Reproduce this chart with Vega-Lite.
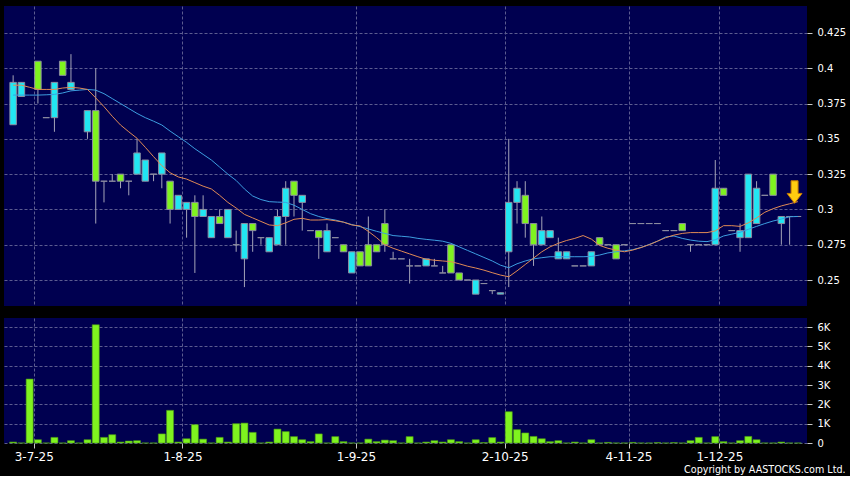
{
  "$schema": "https://vega.github.io/schema/vega-lite/v6.json",
  "background": "#000000",
  "padding": {"left": 4, "top": 6, "right": 4, "bottom": 1},
  "spacing": 12,
  "title": {"text": "Copyright by AASTOCKS.com Ltd.", "orient": "bottom", "anchor": "end", "frame": "bounds", "color": "#ffffff", "font": "DejaVu Sans", "fontSize": 9.6, "fontWeight": "normal", "offset": 3},
  "datasets": {
    "k": [
      {"i":0,"o":0.36,"h":0.395,"l":0.36,"c":0.39,"v":50,"m1":0.388,"m2":0.381},
      {"i":1,"o":0.38,"h":0.39,"l":0.38,"c":0.39,"v":0,"m1":0.388,"m2":0.381},
      {"i":2,"o":null,"h":null,"l":null,"c":null,"v":3310,"m1":0.3865,"m2":0.381},
      {"i":3,"o":0.405,"h":0.405,"l":0.375,"c":0.385,"v":170,"m1":0.385,"m2":0.381},
      {"i":4,"o":0.365,"h":0.365,"l":0.365,"c":0.365,"v":0,"m1":0.385,"m2":0.3812},
      {"i":5,"o":0.365,"h":0.39,"l":0.355,"c":0.39,"v":290,"m1":0.385,"m2":0.3815},
      {"i":6,"o":0.405,"h":0.405,"l":0.395,"c":0.395,"v":0,"m1":0.386,"m2":0.3825},
      {"i":7,"o":0.385,"h":0.41,"l":0.385,"c":0.39,"v":120,"m1":0.3865,"m2":0.384},
      {"i":8,"o":null,"h":null,"l":null,"c":null,"v":0,"m1":0.386,"m2":0.3845},
      {"i":9,"o":0.355,"h":0.37,"l":0.35,"c":0.37,"v":170,"m1":0.385,"m2":0.385},
      {"i":10,"o":0.37,"h":0.4,"l":0.29,"c":0.32,"v":6120,"m1":0.379,"m2":0.3845},
      {"i":11,"o":0.32,"h":0.32,"l":0.305,"c":0.32,"v":290,"m1":0.3728,"m2":0.382},
      {"i":12,"o":0.32,"h":0.325,"l":0.32,"c":0.32,"v":430,"m1":0.366,"m2":0.3785},
      {"i":13,"o":0.325,"h":0.325,"l":0.315,"c":0.32,"v":50,"m1":0.3598,"m2":0.375},
      {"i":14,"o":0.32,"h":0.32,"l":0.31,"c":0.32,"v":100,"m1":0.355,"m2":0.3715},
      {"i":15,"o":0.325,"h":0.35,"l":0.325,"c":0.34,"v":120,"m1":0.3504,"m2":0.368},
      {"i":16,"o":0.32,"h":0.335,"l":0.32,"c":0.335,"v":0,"m1":0.344,"m2":0.365},
      {"i":17,"o":0.325,"h":0.325,"l":0.32,"c":0.325,"v":0,"m1":0.3374,"m2":0.3625},
      {"i":18,"o":0.325,"h":0.34,"l":0.315,"c":0.34,"v":470,"m1":0.331,"m2":0.3598},
      {"i":19,"o":0.32,"h":0.32,"l":0.29,"c":0.3,"v":1690,"m1":0.326,"m2":0.3555},
      {"i":20,"o":0.3,"h":0.31,"l":0.3,"c":0.31,"v":50,"m1":0.323,"m2":0.3515},
      {"i":21,"o":0.3,"h":0.305,"l":0.28,"c":0.305,"v":220,"m1":0.3215,"m2":0.3475},
      {"i":22,"o":0.305,"h":0.31,"l":0.255,"c":0.295,"v":950,"m1":0.319,"m2":0.343},
      {"i":23,"o":0.295,"h":0.31,"l":0.295,"c":0.3,"v":200,"m1":0.3165,"m2":0.339},
      {"i":24,"o":0.28,"h":0.295,"l":0.28,"c":0.295,"v":0,"m1":0.3145,"m2":0.335},
      {"i":25,"o":0.295,"h":0.3,"l":0.29,"c":0.29,"v":290,"m1":0.31,"m2":0.33},
      {"i":26,"o":0.28,"h":0.3,"l":0.28,"c":0.3,"v":50,"m1":0.305,"m2":0.325},
      {"i":27,"o":0.275,"h":0.285,"l":0.27,"c":0.275,"v":1000,"m1":0.301,"m2":0.3205},
      {"i":28,"o":0.265,"h":0.29,"l":0.245,"c":0.29,"v":1030,"m1":0.2965,"m2":0.3145},
      {"i":29,"o":0.29,"h":0.29,"l":0.27,"c":0.285,"v":550,"m1":0.294,"m2":0.3095},
      {"i":30,"o":0.28,"h":0.28,"l":0.275,"c":0.28,"v":0,"m1":0.2915,"m2":0.307},
      {"i":31,"o":0.27,"h":0.28,"l":0.27,"c":0.28,"v":50,"m1":0.289,"m2":0.3055},
      {"i":32,"o":0.275,"h":0.3,"l":0.275,"c":0.295,"v":720,"m1":0.2885,"m2":0.3052},
      {"i":33,"o":0.295,"h":0.32,"l":0.275,"c":0.315,"v":590,"m1":0.2905,"m2":0.305},
      {"i":34,"o":0.32,"h":0.32,"l":0.295,"c":0.31,"v":330,"m1":0.293,"m2":0.303},
      {"i":35,"o":0.305,"h":0.31,"l":0.285,"c":0.31,"v":170,"m1":0.2937,"m2":0.3},
      {"i":36,"o":0.285,"h":0.285,"l":0.285,"c":0.285,"v":70,"m1":0.2925,"m2":0.297},
      {"i":37,"o":0.285,"h":0.285,"l":0.265,"c":0.28,"v":470,"m1":0.2925,"m2":0.295},
      {"i":38,"o":0.27,"h":0.29,"l":0.27,"c":0.285,"v":0,"m1":0.2928,"m2":0.2935},
      {"i":39,"o":0.28,"h":0.28,"l":0.28,"c":0.28,"v":330,"m1":0.292,"m2":0.2925},
      {"i":40,"o":0.275,"h":0.275,"l":0.27,"c":0.27,"v":70,"m1":0.291,"m2":0.291},
      {"i":41,"o":0.255,"h":0.27,"l":0.255,"c":0.27,"v":0,"m1":0.289,"m2":0.2893},
      {"i":42,"o":0.27,"h":0.27,"l":0.26,"c":0.26,"v":0,"m1":0.2883,"m2":0.2878},
      {"i":43,"o":0.275,"h":0.295,"l":0.26,"c":0.26,"v":200,"m1":0.2845,"m2":0.2862},
      {"i":44,"o":0.275,"h":0.275,"l":0.27,"c":0.27,"v":70,"m1":0.28,"m2":0.2845},
      {"i":45,"o":0.29,"h":0.3,"l":0.27,"c":0.275,"v":150,"m1":0.275,"m2":0.283},
      {"i":46,"o":0.265,"h":0.27,"l":0.265,"c":0.265,"v":120,"m1":0.2725,"m2":0.2815},
      {"i":47,"o":0.265,"h":0.265,"l":0.265,"c":0.265,"v":0,"m1":0.2705,"m2":0.281},
      {"i":48,"o":0.26,"h":0.265,"l":0.2475,"c":0.26,"v":330,"m1":0.2685,"m2":0.2805},
      {"i":49,"o":0.26,"h":0.26,"l":0.26,"c":0.26,"v":0,"m1":0.2665,"m2":0.2795},
      {"i":50,"o":0.26,"h":0.265,"l":0.26,"c":0.265,"v":50,"m1":0.2647,"m2":0.2788},
      {"i":51,"o":0.26,"h":0.265,"l":0.26,"c":0.26,"v":120,"m1":0.264,"m2":0.2782},
      {"i":52,"o":0.255,"h":0.26,"l":0.255,"c":0.255,"v":50,"m1":0.2635,"m2":0.2775},
      {"i":53,"o":0.275,"h":0.275,"l":0.255,"c":0.255,"v":170,"m1":0.263,"m2":0.276},
      {"i":54,"o":0.255,"h":0.255,"l":0.25,"c":0.25,"v":70,"m1":0.2615,"m2":0.2735},
      {"i":55,"o":0.25,"h":0.25,"l":0.25,"c":0.25,"v":0,"m1":0.2598,"m2":0.271},
      {"i":56,"o":0.24,"h":0.25,"l":0.24,"c":0.25,"v":170,"m1":0.2585,"m2":0.2685},
      {"i":57,"o":0.2475,"h":0.2475,"l":0.2475,"c":0.2475,"v":20,"m1":0.257,"m2":0.266},
      {"i":58,"o":0.2425,"h":0.2425,"l":0.24,"c":0.2425,"v":280,"m1":0.2552,"m2":0.2635},
      {"i":59,"o":0.24,"h":0.241,"l":0.24,"c":0.241,"v":50,"m1":0.2535,"m2":0.2605},
      {"i":60,"o":0.27,"h":0.35,"l":0.245,"c":0.305,"v":1620,"m1":0.2523,"m2":0.2587},
      {"i":61,"o":0.305,"h":0.32,"l":0.29,"c":0.315,"v":690,"m1":0.2565,"m2":0.2615},
      {"i":62,"o":0.31,"h":0.32,"l":0.28,"c":0.29,"v":520,"m1":0.261,"m2":0.2635},
      {"i":63,"o":0.29,"h":0.29,"l":0.26,"c":0.275,"v":340,"m1":0.2655,"m2":0.265},
      {"i":64,"o":0.275,"h":0.295,"l":0.275,"c":0.285,"v":220,"m1":0.27,"m2":0.2658},
      {"i":65,"o":0.28,"h":0.285,"l":0.28,"c":0.285,"v":70,"m1":0.2735,"m2":0.2665},
      {"i":66,"o":0.265,"h":0.28,"l":0.265,"c":0.27,"v":120,"m1":0.276,"m2":0.2665},
      {"i":67,"o":0.265,"h":0.27,"l":0.265,"c":0.27,"v":0,"m1":0.278,"m2":0.2665},
      {"i":68,"o":0.26,"h":0.26,"l":0.26,"c":0.26,"v":50,"m1":0.2795,"m2":0.2665},
      {"i":69,"o":0.26,"h":0.26,"l":0.26,"c":0.26,"v":0,"m1":0.2815,"m2":0.2665},
      {"i":70,"o":0.26,"h":0.27,"l":0.26,"c":0.27,"v":170,"m1":0.279,"m2":0.2667},
      {"i":71,"o":0.28,"h":0.28,"l":0.275,"c":0.275,"v":0,"m1":0.2745,"m2":0.2677},
      {"i":72,"o":0.275,"h":0.275,"l":0.275,"c":0.275,"v":30,"m1":0.2725,"m2":0.2692},
      {"i":73,"o":0.275,"h":0.275,"l":0.265,"c":0.265,"v":0,"m1":0.2712,"m2":0.27},
      {"i":74,"o":0.275,"h":0.275,"l":0.275,"c":0.275,"v":0,"m1":0.27,"m2":0.2707},
      {"i":75,"o":0.29,"h":0.29,"l":0.29,"c":0.29,"v":30,"m1":0.2712,"m2":0.2715},
      {"i":76,"o":0.29,"h":0.29,"l":0.29,"c":0.29,"v":0,"m1":0.273,"m2":0.273},
      {"i":77,"o":0.29,"h":0.29,"l":0.29,"c":0.29,"v":0,"m1":0.275,"m2":0.2752},
      {"i":78,"o":0.29,"h":0.29,"l":0.29,"c":0.29,"v":20,"m1":0.2775,"m2":0.2775},
      {"i":79,"o":0.285,"h":0.285,"l":0.285,"c":0.285,"v":0,"m1":0.28,"m2":0.2805},
      {"i":80,"o":0.285,"h":0.285,"l":0.285,"c":0.285,"v":20,"m1":0.2818,"m2":0.2812},
      {"i":81,"o":0.29,"h":0.29,"l":0.285,"c":0.285,"v":0,"m1":0.283,"m2":0.2795},
      {"i":82,"o":0.275,"h":0.275,"l":0.27,"c":0.275,"v":120,"m1":0.2836,"m2":0.2783},
      {"i":83,"o":0.275,"h":0.275,"l":0.275,"c":0.275,"v":290,"m1":0.2836,"m2":0.2775},
      {"i":84,"o":0.275,"h":0.275,"l":0.275,"c":0.275,"v":0,"m1":0.2836,"m2":0.2772},
      {"i":85,"o":0.275,"h":0.335,"l":0.275,"c":0.315,"v":330,"m1":0.2848,"m2":0.2785},
      {"i":86,"o":0.315,"h":0.315,"l":0.31,"c":0.31,"v":70,"m1":0.2885,"m2":0.2812},
      {"i":87,"o":0.285,"h":0.285,"l":0.285,"c":0.285,"v":0,"m1":0.2885,"m2":0.2825},
      {"i":88,"o":0.28,"h":0.29,"l":0.27,"c":0.285,"v":120,"m1":0.288,"m2":0.2838},
      {"i":89,"o":0.28,"h":0.325,"l":0.28,"c":0.325,"v":340,"m1":0.2905,"m2":0.2859},
      {"i":90,"o":0.29,"h":0.32,"l":0.29,"c":0.315,"v":170,"m1":0.294,"m2":0.288},
      {"i":91,"o":0.31,"h":0.31,"l":0.31,"c":0.31,"v":0,"m1":0.298,"m2":0.29},
      {"i":92,"o":0.325,"h":0.325,"l":0.31,"c":0.31,"v":0,"m1":0.3005,"m2":0.2918},
      {"i":93,"o":0.29,"h":0.295,"l":0.275,"c":0.295,"v":50,"m1":0.3025,"m2":0.2932},
      {"i":94,"o":0.295,"h":0.295,"l":0.275,"c":0.295,"v":0,"m1":0.304,"m2":0.2948},
      {"i":95,"o":0.295,"h":0.295,"l":0.295,"c":0.295,"v":0,"m1":0.3055,"m2":0.295}
    ],
    "mk": [{"i": 94.6, "p": 0.3123}]
  },
  "vconcat": [
    {
      "width": 803,
      "height": 300,
      "data": {"name": "k"},
      "layer": [
        {
          "mark": {"type": "rule", "color": "#a4a4b8", "strokeWidth": 1},
          "encoding": {
            "x": {"field": "i", "type": "quantitative", "scale": {"domain": [-0.5, 95.5], "nice": false, "zero": false},
                  "axis": {"values": [2.5, 20.5, 41.5, 59.5, 74.5, 85.5], "labels": false, "ticks": false, "domain": false, "grid": true, "title": null}},
            "y": {"field": "l", "type": "quantitative", "scale": {"domain": [0.2316, 0.4441], "nice": false, "zero": false},
                  "axis": {"orient": "right", "values": [0.25, 0.275, 0.3, 0.325, 0.35, 0.375, 0.4, 0.425], "format": ".3~f", "title": null, "grid": true, "domain": false, "ticks": true, "tickSize": 5, "labelPadding": 5, "labelFontSize": 10}},
            "y2": {"field": "h"}
          }
        },
        {
          "mark": {"type": "bar", "size": 6.5, "stroke": "#8c8ca0", "strokeWidth": 1},
          "encoding": {
            "x": {"field": "i", "type": "quantitative"},
            "y": {"field": "o", "type": "quantitative"},
            "y2": {"field": "c"},
            "fill": {"condition": {"test": "datum.c < datum.o", "value": "#7ff31f"}, "value": "#22e6f2"}
          }
        },
        {
          "mark": {"type": "line", "color": "#3d9ee0", "strokeWidth": 1},
          "encoding": {
            "x": {"field": "i", "type": "quantitative"},
            "y": {"field": "m2", "type": "quantitative"}
          }
        },
        {
          "mark": {"type": "line", "color": "#e08a55", "strokeWidth": 1},
          "encoding": {
            "x": {"field": "i", "type": "quantitative"},
            "y": {"field": "m1", "type": "quantitative"}
          }
        },
        {
          "data": {"name": "mk"},
          "mark": {"type": "point", "filled": true, "shape": "M-0.31,-1L0.31,-1L0.31,0.12L0.66,0.12L0,1L-0.66,0.12L-0.31,0.12Z", "size": 510, "fill": "#ffcc10", "stroke": "#c87a00", "strokeWidth": 1, "opacity": 1},
          "encoding": {
            "x": {"field": "i", "type": "quantitative"},
            "y": {"field": "p", "type": "quantitative"}
          }
        }
      ]
    },
    {
      "width": 803,
      "height": 125,
      "data": {"name": "k"},
      "mark": {"type": "bar", "size": 7, "fill": "#7ff31f", "stroke": "#4c9a14", "strokeWidth": 0.6},
      "encoding": {
        "x": {"field": "i", "type": "quantitative", "scale": {"domain": [-0.5, 95.5], "nice": false, "zero": false},
              "axis": {"values": [2.5, 20.5, 41.5, 59.5, 74.5, 85.5], "grid": true, "domain": false, "ticks": true, "tickSize": 5, "labelPadding": 3, "labelFontSize": 12, "title": null,
                       "labelExpr": "datum.value == 2.5 ? '3-7-25' : datum.value == 20.5 ? '1-8-25' : datum.value == 41.5 ? '1-9-25' : datum.value == 59.5 ? '2-10-25' : datum.value == 74.5 ? '4-11-25' : '1-12-25'"}},
        "y": {"field": "v", "type": "quantitative", "scale": {"domain": [0, 6470], "nice": false, "zero": true},
              "axis": {"orient": "right", "values": [0, 1000, 2000, 3000, 4000, 5000, 6000], "title": null, "grid": true, "domain": false, "ticks": true, "tickSize": 5, "labelPadding": 5, "labelFontSize": 10,
                       "labelExpr": "datum.value == 0 ? '0' : (datum.value / 1000) + 'K'"}}
      }
    }
  ],
  "config": {
    "view": {"stroke": null, "fill": "#000050"},
    "axis": {"labelColor": "#ffffff", "labelFont": "DejaVu Sans", "tickColor": "#c8c8c8", "gridColor": "#5c5c90", "gridDash": [3, 2], "gridWidth": 1, "gridOpacity": 1, "labelOverlap": false, "labelFlush": false}
  }
}
